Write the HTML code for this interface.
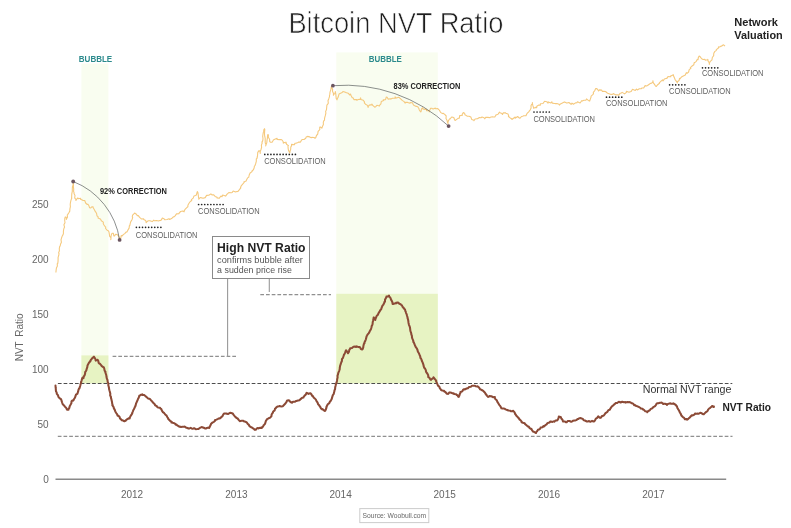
<!DOCTYPE html>
<html lang="en">
<head>
<meta charset="utf-8">
<title>Bitcoin NVT Ratio</title>
<style>
html,body{margin:0;padding:0;background:#fff;}
body{width:791px;height:528px;overflow:hidden;font-family:"Liberation Sans","DejaVu Sans",sans-serif;}
svg{display:block;}
text{font-family:"Liberation Sans","DejaVu Sans",sans-serif;}
.title{font-size:29.4px;fill:#1e1e1e;stroke:#fff;stroke-width:0.7px;paint-order:fill stroke;}
.cons{font-size:8.3px;fill:#606060;}
.tick{font-size:10px;fill:#666;}
.bubble{font-size:9px;font-weight:bold;fill:#2b8a8c;}
.corr{font-size:8.6px;font-weight:bold;fill:#222;}
.bold{font-weight:bold;fill:#222;}
</style>
</head>
<body>
<svg width="791" height="528" viewBox="0 0 791 528">
<rect width="791" height="528" fill="#fff"/>
<!-- bubble bands -->
<rect x="81.4" y="63.6" width="27" height="319.8" fill="#f9fdf0"/>
<rect x="336.3" y="52.4" width="101.5" height="331" fill="#f9fdf0"/>
<rect x="81.4" y="355.4" width="27" height="28" fill="#e7f3c3"/>
<rect x="336.3" y="293.8" width="101.5" height="89.6" fill="#e7f3c3"/>
<text x="78.8" y="61.8" class="bubble" textLength="33.4" lengthAdjust="spacingAndGlyphs">BUBBLE</text>
<text x="368.8" y="61.9" class="bubble" textLength="33" lengthAdjust="spacingAndGlyphs">BUBBLE</text>

<!-- title -->
<text x="288.4" y="32.9" class="title" textLength="215" lengthAdjust="spacingAndGlyphs">Bitcoin NVT Ratio</text>

<!-- axis -->
<line x1="55.5" y1="479.3" x2="726.2" y2="479.3" stroke="#8a8a8a" stroke-width="1.5"/>
<g class="tick" text-anchor="end">
<text x="48.7" y="207.6" class="tick">250</text>
<text x="48.7" y="262.7" class="tick">200</text>
<text x="48.7" y="317.7" class="tick">150</text>
<text x="48.7" y="372.8" class="tick">100</text>
<text x="48.7" y="427.8" class="tick">50</text>
<text x="48.7" y="482.8" class="tick">0</text>
</g>
<g class="tick" text-anchor="middle">
<text x="132" y="497.9" class="tick">2012</text>
<text x="236.4" y="497.9" class="tick">2013</text>
<text x="340.6" y="497.9" class="tick">2014</text>
<text x="444.7" y="497.9" class="tick">2015</text>
<text x="549" y="497.9" class="tick">2016</text>
<text x="653.4" y="497.9" class="tick">2017</text>
</g>
<text transform="translate(23.3,361.3) rotate(-90)" class="tick" style="word-spacing:2px;font-size:10px">NVT Ratio</text>

<!-- dashed reference lines -->
<line x1="57.9" y1="383.5" x2="732.3" y2="383.5" stroke="#4d4d4d" stroke-width="1" stroke-dasharray="3.7 2"/>
<line x1="57.8" y1="436.3" x2="732.5" y2="436.3" stroke="#909090" stroke-width="1.25" stroke-dasharray="3.7 2"/>
<line x1="112.6" y1="356.4" x2="236.4" y2="356.4" stroke="#909090" stroke-width="1.25" stroke-dasharray="3.7 2"/>
<line x1="260.3" y1="294.5" x2="331" y2="294.5" stroke="#909090" stroke-width="1.25" stroke-dasharray="3.7 2"/>
<line x1="227.6" y1="279" x2="227.6" y2="356.4" stroke="#999" stroke-width="1.1"/>
<line x1="269.3" y1="279" x2="269.3" y2="292" stroke="#999" stroke-width="1.1"/>

<!-- callout -->
<rect x="212.5" y="236.5" width="97" height="42" fill="#fff" stroke="#8a8a8a" stroke-width="1"/>
<text x="217.1" y="251.5" class="bold" font-size="13.4" textLength="88.4" lengthAdjust="spacingAndGlyphs">High NVT Ratio</text>
<text x="217.1" y="262.7" font-size="9" fill="#555" textLength="85.7" lengthAdjust="spacingAndGlyphs">confirms bubble after</text>
<text x="217.1" y="272.8" font-size="9" fill="#555" textLength="74.8" lengthAdjust="spacingAndGlyphs">a sudden price rise</text>

<!-- consolidation labels -->
<g fill="#222"><circle cx="136.40" cy="227.30" r="0.85"/><circle cx="139.46" cy="227.30" r="0.85"/><circle cx="142.52" cy="227.30" r="0.85"/><circle cx="145.58" cy="227.30" r="0.85"/><circle cx="148.64" cy="227.30" r="0.85"/><circle cx="151.70" cy="227.30" r="0.85"/><circle cx="154.76" cy="227.30" r="0.85"/><circle cx="157.82" cy="227.30" r="0.85"/><circle cx="160.88" cy="227.30" r="0.85"/></g><text x="135.8" y="238.1" class="cons" textLength="61.6" lengthAdjust="spacingAndGlyphs">CONSOLIDATION</text><g fill="#222"><circle cx="198.60" cy="204.50" r="0.85"/><circle cx="201.66" cy="204.50" r="0.85"/><circle cx="204.72" cy="204.50" r="0.85"/><circle cx="207.78" cy="204.50" r="0.85"/><circle cx="210.84" cy="204.50" r="0.85"/><circle cx="213.90" cy="204.50" r="0.85"/><circle cx="216.96" cy="204.50" r="0.85"/><circle cx="220.02" cy="204.50" r="0.85"/><circle cx="223.08" cy="204.50" r="0.85"/></g><text x="198" y="214.4" class="cons" textLength="61.6" lengthAdjust="spacingAndGlyphs">CONSOLIDATION</text><g fill="#222"><circle cx="264.80" cy="154.40" r="0.85"/><circle cx="267.86" cy="154.40" r="0.85"/><circle cx="270.92" cy="154.40" r="0.85"/><circle cx="273.98" cy="154.40" r="0.85"/><circle cx="277.04" cy="154.40" r="0.85"/><circle cx="280.10" cy="154.40" r="0.85"/><circle cx="283.16" cy="154.40" r="0.85"/><circle cx="286.22" cy="154.40" r="0.85"/><circle cx="289.28" cy="154.40" r="0.85"/><circle cx="292.34" cy="154.40" r="0.85"/><circle cx="295.40" cy="154.40" r="0.85"/></g><text x="264.2" y="164.4" class="cons" textLength="61.6" lengthAdjust="spacingAndGlyphs">CONSOLIDATION</text><g fill="#222"><circle cx="534.00" cy="112.00" r="0.85"/><circle cx="537.06" cy="112.00" r="0.85"/><circle cx="540.12" cy="112.00" r="0.85"/><circle cx="543.18" cy="112.00" r="0.85"/><circle cx="546.24" cy="112.00" r="0.85"/><circle cx="549.30" cy="112.00" r="0.85"/></g><text x="533.4" y="122.3" class="cons" textLength="61.6" lengthAdjust="spacingAndGlyphs">CONSOLIDATION</text><g fill="#222"><circle cx="606.50" cy="97.20" r="0.85"/><circle cx="609.56" cy="97.20" r="0.85"/><circle cx="612.62" cy="97.20" r="0.85"/><circle cx="615.68" cy="97.20" r="0.85"/><circle cx="618.74" cy="97.20" r="0.85"/><circle cx="621.80" cy="97.20" r="0.85"/></g><text x="605.9" y="106.1" class="cons" textLength="61.6" lengthAdjust="spacingAndGlyphs">CONSOLIDATION</text><g fill="#222"><circle cx="669.60" cy="84.80" r="0.85"/><circle cx="672.66" cy="84.80" r="0.85"/><circle cx="675.72" cy="84.80" r="0.85"/><circle cx="678.78" cy="84.80" r="0.85"/><circle cx="681.84" cy="84.80" r="0.85"/><circle cx="684.90" cy="84.80" r="0.85"/></g><text x="669.0" y="93.8" class="cons" textLength="61.6" lengthAdjust="spacingAndGlyphs">CONSOLIDATION</text><g fill="#222"><circle cx="702.50" cy="67.80" r="0.85"/><circle cx="705.56" cy="67.80" r="0.85"/><circle cx="708.62" cy="67.80" r="0.85"/><circle cx="711.68" cy="67.80" r="0.85"/><circle cx="714.74" cy="67.80" r="0.85"/><circle cx="717.80" cy="67.80" r="0.85"/></g><text x="701.9" y="76.4" class="cons" textLength="61.6" lengthAdjust="spacingAndGlyphs">CONSOLIDATION</text>

<!-- curves -->
<path d="M55.9,272.5 L56.1,270.3 L56.4,268.1 L57.4,266.1 L57.2,263.8 L57.7,263.7 L58.0,261.7 L58.1,259.5 L58.1,257.3 L58.8,255.2 L59.0,253.6 L58.6,252.9 L59.4,250.8 L59.3,248.6 L59.7,246.4 L60.2,246.0 L60.5,244.3 L61.4,242.2 L61.0,239.9 L61.6,237.8 L62.3,235.9 L62.5,235.7 L63.4,233.7 L63.4,231.4 L63.7,229.2 L64.0,228.3 L64.6,227.1 L63.9,224.8 L65.0,222.7 L64.7,220.5 L64.8,218.3 L65.3,216.9 L66.2,217.3 L66.5,219.4 L66.3,219.2 L67.5,217.2 L67.3,214.9 L67.8,214.4 L68.7,213.0 L69.8,211.1 L69.8,210.6 L69.9,208.9 L70.4,206.7 L70.2,204.5 L70.5,202.3 L71.0,200.1 L71.8,198.0 L71.6,197.9 L71.7,195.8 L71.8,193.6 L72.3,191.4 L72.3,189.2 L72.4,187.0 L73.1,184.9 L73.2,182.7 L73.0,182.6 L73.5,184.7 L73.4,186.9 L73.7,189.1 L73.6,191.3 L74.1,192.9 L74.0,193.5 L75.0,195.5 L74.7,197.9 L76.2,199.8 L75.9,200.5 L76.7,199.2 L77.9,197.9 L78.1,198.7 L80.7,198.3 L80.5,199.2 L82.3,200.1 L83.0,200.5 L84.7,200.5 L85.5,202.5 L85.6,203.0 L87.3,204.5 L88.0,204.2 L88.9,205.7 L89.6,207.8 L90.6,208.0 L91.8,206.9 L93.1,206.8 L93.2,207.8 L94.4,209.7 L95.4,211.7 L95.6,211.8 L96.6,213.5 L97.0,215.8 L98.2,216.9 L98.0,218.0 L100.3,218.9 L100.7,219.4 L101.3,220.8 L103.4,222.1 L103.2,223.2 L103.6,224.5 L104.9,226.3 L105.7,227.0 L105.6,228.5 L107.1,230.2 L108.3,230.8 L108.9,231.7 L109.3,233.8 L109.6,236.1 L111.0,237.9 L110.8,239.6 L110.9,238.9 L111.0,236.7 L111.4,234.5 L112.1,233.3 L113.3,233.2 L113.8,235.9 L114.6,235.9 L115.6,234.3 L117.1,234.6 L118.0,235.2 L119.0,237.2 L119.6,238.4 L120.8,238.4 L121.2,235.6 L122.2,235.9 L123.3,234.7 L125.0,233.3 L126.0,232.1 L126.9,231.9 L128.0,229.9 L129.1,228.1 L129.4,225.6 L129.8,225.7 L130.2,223.7 L130.8,221.6 L132.0,219.7 L132.7,217.6 L132.3,216.9 L132.6,215.1 L134.1,213.6 L134.6,213.0 L136.4,214.3 L137.3,215.6 L138.3,215.6 L139.6,217.4 L141.1,218.7 L141.3,219.0 L143.6,218.7 L143.7,219.4 L145.7,220.4 L146.2,222.7 L146.1,222.5 L147.7,221.1 L148.7,220.7 L149.9,220.8 L152.2,221.6 L153.8,220.2 L154.2,220.8 L156.5,220.5 L158.6,221.0 L158.8,220.7 L160.9,220.4 L162.4,218.1 L163.9,218.7 L164.9,219.8 L167.1,219.5 L169.0,218.7 L169.6,219.5 L171.6,218.6 L173.3,216.9 L174.0,216.9 L175.1,215.8 L176.5,213.9 L179.0,213.6 L179.1,213.1 L180.6,211.5 L182.7,211.0 L184.1,211.8 L184.3,210.6 L185.5,208.8 L187.1,207.3 L187.9,206.8 L187.9,205.2 L189.0,203.3 L190.3,201.5 L191.7,200.5 L191.4,199.6 L193.2,198.1 L194.0,195.9 L195.5,195.4 L196.4,194.9 L197.0,192.7 L197.3,191.6 L197.9,192.5 L198.2,194.7 L198.5,196.9 L198.9,199.1 L198.8,199.2 L200.3,197.5 L201.8,197.9 L203.1,198.2 L205.2,197.6 L206.6,195.4 L206.9,195.4 L208.8,195.2 L210.9,193.9 L211.9,194.9 L213.5,194.7 L215.1,196.4 L217.1,197.3 L217.0,197.9 L219.2,198.3 L220.9,196.0 L222.0,196.7 L222.6,195.1 L225.6,196.1 L227.1,194.2 L227.1,194.1 L228.8,192.6 L231.3,192.8 L232.2,192.4 L233.2,191.0 L235.5,191.9 L236.0,191.8 L238.0,191.4 L239.4,189.7 L240.8,187.9 L240.5,187.6 L241.4,185.6 L242.9,183.9 L244.2,182.5 L243.8,181.9 L246.1,180.9 L247.1,178.8 L248.0,177.5 L248.7,177.3 L249.2,175.0 L250.1,173.0 L252.1,171.6 L251.8,171.1 L253.4,169.8 L254.2,167.7 L254.4,166.1 L255.0,165.6 L255.7,163.5 L256.3,161.4 L256.3,159.0 L256.9,158.5 L257.3,157.0 L257.6,154.9 L257.7,152.6 L258.7,150.9 L259.6,150.7 L260.3,152.8 L260.2,153.4 L260.2,151.6 L261.0,149.5 L261.6,147.4 L261.4,145.1 L262.2,143.0 L261.9,142.1 L262.7,140.9 L263.0,138.7 L262.7,136.4 L263.0,134.2 L263.4,132.1 L263.7,131.9 L263.8,129.9 L264.5,128.7 L264.8,129.6 L264.6,131.8 L264.5,134.0 L264.7,136.2 L265.2,138.4 L265.2,140.6 L265.2,142.8 L266.0,144.9 L265.7,145.9 L266.1,144.7 L266.8,142.6 L267.0,140.4 L267.4,138.2 L267.5,136.0 L267.8,134.5 L268.4,135.0 L268.3,137.3 L269.6,139.2 L269.7,141.5 L270.3,142.1 L272.1,142.3 L273.3,140.3 L273.3,140.0 L275.3,139.0 L277.1,138.3 L277.0,139.5 L279.3,139.6 L280.9,139.5 L281.8,139.7 L283.1,141.5 L283.4,143.3 L283.5,142.3 L286.3,143.1 L286.0,142.1 L286.5,144.2 L288.5,145.6 L288.0,145.9 L288.1,148.1 L288.5,150.3 L289.4,152.3 L289.8,152.9 L290.0,151.4 L290.7,149.3 L290.8,147.0 L291.5,145.9 L291.5,144.4 L294.6,144.8 L294.8,143.3 L296.0,143.3 L298.0,142.4 L298.6,142.1 L300.5,142.1 L301.6,139.9 L302.4,139.5 L304.0,139.5 L305.8,138.2 L306.2,137.0 L307.5,136.4 L309.7,136.9 L311.3,137.8 L311.8,137.3 L314.0,137.5 L315.0,138.3 L315.8,137.5 L316.5,135.3 L317.6,134.5 L317.8,133.6 L318.1,131.4 L319.8,129.6 L319.7,127.3 L320.1,126.9 L321.5,127.8 L321.9,128.2 L322.4,126.6 L323.4,124.6 L323.3,122.3 L323.9,120.6 L324.5,120.3 L324.6,118.1 L325.2,115.9 L325.7,113.8 L325.9,113.0 L325.6,111.6 L326.5,109.5 L326.7,107.3 L326.9,105.1 L327.7,104.1 L328.3,103.1 L328.0,100.8 L328.8,98.7 L329.5,96.6 L329.5,95.3 L329.8,94.4 L330.0,92.2 L330.7,90.1 L331.2,88.0 L331.5,86.4 L331.3,87.0 L332.6,89.0 L332.5,91.3 L333.4,93.3 L333.5,95.3 L333.3,94.9 L335.0,93.3 L335.3,91.5 L335.4,91.9 L335.8,94.1 L336.0,96.3 L336.2,98.5 L337.0,99.8 L337.2,99.0 L338.2,97.1 L338.8,94.9 L339.1,94.0 L340.1,93.4 L342.2,92.5 L342.9,91.5 L343.9,91.7 L346.0,92.6 L346.7,92.8 L348.1,93.2 L349.8,95.0 L350.4,94.0 L351.2,95.8 L352.2,97.8 L353.0,97.8 L353.9,99.6 L356.6,99.5 L356.8,100.3 L358.2,99.5 L360.6,99.1 L360.6,97.8 L360.9,99.4 L363.3,100.3 L364.6,102.1 L364.3,102.9 L365.5,104.2 L367.5,105.4 L368.1,107.4 L367.9,106.8 L369.3,105.1 L371.9,104.6 L371.9,104.1 L373.0,105.7 L374.7,107.2 L375.7,106.7 L376.9,105.3 L379.5,106.0 L379.5,105.4 L380.9,103.9 L381.3,101.5 L383.7,100.5 L383.3,99.8 L385.5,99.7 L386.3,97.0 L387.1,97.3 L388.1,99.1 L390.7,98.7 L390.9,99.1 L392.5,98.2 L395.1,98.2 L395.1,96.8 L396.2,98.1 L398.9,97.2 L400.1,98.5 L400.7,98.8 L402.2,100.4 L404.1,101.6 L405.2,103.1 L405.5,102.3 L407.7,102.4 L410.0,103.2 L410.2,102.6 L412.4,102.8 L413.5,105.0 L415.3,106.1 L415.5,106.1 L417.8,106.8 L419.0,108.8 L419.1,109.4 L419.9,110.9 L420.8,111.9 L421.2,111.1 L421.5,108.8 L422.9,107.6 L422.8,108.9 L425.0,109.4 L426.7,109.4 L426.5,110.6 L429.3,110.8 L429.2,111.9 L429.7,110.4 L430.6,108.3 L431.7,108.2 L433.1,109.1 L435.4,108.1 L435.5,108.7 L437.8,108.6 L439.3,110.2 L439.5,110.2 L440.6,112.4 L442.4,113.6 L443.1,113.2 L444.7,114.4 L446.2,116.0 L446.1,117.0 L446.0,118.6 L447.1,120.6 L447.6,122.7 L448.2,123.8 L447.9,122.7 L448.5,120.6 L449.7,118.8 L450.1,119.0 L451.4,117.2 L451.9,117.0 L453.8,117.5 L454.5,119.5 L455.1,120.5 L457.0,119.1 L458.3,118.3 L459.3,118.2 L459.7,115.6 L462.5,115.2 L462.1,114.5 L463.3,112.6 L464.6,113.2 L464.9,114.7 L466.9,115.9 L467.1,116.2 L469.0,116.2 L470.9,117.0 L470.9,117.2 L471.7,119.4 L474.1,120.3 L473.9,120.8 L475.1,119.0 L477.2,118.8 L477.5,118.8 L479.4,117.5 L481.0,117.8 L482.0,117.0 L484.0,117.7 L484.8,118.8 L485.7,117.4 L488.0,117.4 L489.9,117.8 L490.2,117.2 L492.3,116.8 L493.7,117.0 L494.8,117.0 L496.0,114.9 L497.5,114.5 L498.1,114.1 L499.5,112.2 L500.0,112.7 L501.9,113.6 L502.5,114.5 L503.2,112.9 L505.4,112.7 L505.8,113.2 L508.0,113.9 L508.8,116.2 L508.4,116.5 L510.2,117.9 L512.3,119.0 L511.9,119.5 L513.5,118.2 L515.2,117.0 L515.1,118.2 L517.7,116.5 L519.0,117.8 L519.9,118.3 L521.5,116.5 L522.7,116.2 L523.6,115.8 L526.0,115.7 L526.5,114.5 L527.1,113.4 L528.7,111.8 L529.6,110.7 L530.1,110.1 L531.1,108.1 L531.0,105.7 L531.6,104.4 L532.4,103.9 L532.4,102.6 L532.4,103.6 L532.9,105.7 L533.6,107.8 L533.6,108.2 L535.3,107.4 L536.7,107.6 L536.8,106.2 L538.8,105.1 L540.4,105.1 L540.4,103.8 L543.0,103.5 L544.2,101.8 L544.6,101.3 L546.7,101.7 L548.0,103.1 L548.2,101.9 L550.9,103.0 L551.8,101.8 L552.3,103.1 L554.5,103.5 L555.6,103.6 L556.9,103.5 L559.0,104.2 L559.4,105.1 L560.4,103.9 L562.4,103.0 L563.2,102.6 L564.6,101.9 L566.7,102.9 L567.0,103.1 L568.9,102.5 L571.1,104.3 L572.0,103.1 L573.4,104.2 L575.5,102.9 L577.1,102.6 L577.5,101.8 L580.1,103.0 L581.7,100.7 L582.2,101.1 L583.9,100.3 L586.0,100.1 L586.5,98.9 L588.3,100.4 L589.7,101.1 L589.9,100.4 L590.6,98.4 L591.0,97.3 L591.1,96.1 L592.8,94.6 L593.5,93.6 L593.3,92.3 L594.8,90.6 L595.7,88.6 L596.6,88.5 L597.8,89.7 L598.6,91.0 L599.4,89.9 L601.6,90.1 L602.4,91.5 L603.7,91.2 L605.9,91.5 L606.2,92.3 L607.7,93.2 L609.7,94.0 L610.0,94.1 L612.0,94.5 L613.8,93.6 L613.9,94.1 L616.0,94.9 L617.5,94.8 L618.6,95.3 L620.1,93.3 L621.3,93.0 L622.2,92.4 L624.6,93.9 L626.4,92.3 L626.4,91.3 L628.9,92.3 L631.0,91.5 L631.5,91.0 L632.5,89.3 L635.3,90.4 L636.5,89.0 L637.3,89.9 L639.3,88.8 L641.5,88.7 L641.6,88.0 L643.7,88.0 L645.1,85.6 L646.6,86.0 L647.5,85.5 L649.3,84.2 L650.4,83.4 L651.5,83.3 L653.0,81.7 L652.9,80.9 L653.2,82.6 L654.5,84.4 L655.5,86.0 L656.3,86.5 L657.7,84.7 L659.5,83.3 L659.3,82.9 L660.8,81.4 L662.5,79.9 L663.1,80.9 L664.4,79.0 L666.5,78.2 L666.9,78.4 L668.0,76.5 L670.8,76.7 L670.6,75.9 L672.4,75.2 L673.2,74.6 L673.5,75.8 L674.4,77.8 L675.2,79.9 L675.7,80.4 L676.6,81.6 L677.5,82.9 L677.0,82.0 L679.1,80.5 L679.5,78.4 L679.9,78.8 L681.4,77.1 L683.3,76.0 L683.3,75.9 L685.3,75.0 L686.3,72.6 L687.1,73.3 L688.6,72.0 L689.2,69.7 L690.9,68.3 L690.3,67.8 L691.8,66.2 L693.8,64.8 L694.2,62.5 L694.7,62.7 L696.3,61.3 L697.2,59.4 L698.0,59.7 L698.4,57.4 L699.2,56.1 L699.9,56.4 L701.2,58.2 L701.7,58.7 L703.1,59.5 L704.8,59.4 L705.3,60.1 L707.5,59.7 L707.8,59.4 L708.2,61.3 L709.5,63.2 L709.3,64.5 L709.2,63.3 L710.3,61.4 L711.1,60.7 L712.0,59.8 L712.3,57.5 L713.7,55.7 L713.6,55.6 L713.8,53.3 L714.9,51.4 L716.2,50.6 L716.3,49.6 L718.2,48.2 L718.7,46.8 L719.6,47.1 L721.2,46.0 L721.7,46.2 L723.0,45.0 L723.6,44.8 L725.0,46.2" fill="none" stroke="#f5c97e" stroke-width="1.1" stroke-linejoin="round"/>
<path d="M55.5,385.5 L55.6,387.2 L55.8,388.9 L55.9,390.6 L56.0,391.5 L56.6,392.1 L56.8,393.9 L58.0,395.2 L58.2,396.0 L58.4,396.9 L59.5,398.2 L60.6,399.0 L61.1,399.2 L61.6,400.9 L62.1,402.5 L62.7,404.1 L63.6,405.2 L63.9,405.4 L65.0,406.7 L66.2,407.9 L66.7,409.0 L67.0,409.7 L68.5,409.7 L68.4,409.3 L69.3,407.9 L69.7,406.2 L70.3,405.2 L70.5,404.7 L71.4,403.2 L71.5,401.4 L72.1,400.6 L72.9,400.7 L73.6,400.0 L73.9,399.3 L74.9,397.8 L75.5,396.2 L75.8,395.2 L76.0,394.6 L77.5,393.6 L77.6,393.0 L78.0,391.9 L78.4,390.2 L79.0,388.6 L79.4,388.5 L79.8,387.1 L80.3,385.5 L80.7,383.8 L81.2,382.4 L81.0,382.2 L81.6,380.6 L82.0,378.9 L82.4,377.9 L83.0,378.3 L83.6,377.9 L83.6,376.7 L84.6,375.3 L85.1,373.6 L85.2,371.9 L85.5,371.8 L86.3,370.4 L86.7,368.8 L87.3,367.2 L87.5,365.5 L87.9,364.8 L88.3,363.9 L89.1,362.5 L90.4,361.2 L90.3,360.6 L91.1,359.8 L92.1,358.3 L92.4,358.2 L93.3,357.2 L93.9,356.7 L94.5,357.5 L95.4,359.0 L95.8,360.6 L95.6,360.2 L97.5,360.2 L97.6,359.7 L98.3,360.9 L98.6,362.7 L99.4,363.6 L99.9,363.8 L101.1,365.1 L101.5,365.8 L102.2,366.3 L103.6,367.3 L103.8,367.2 L104.3,368.8 L104.6,370.6 L105.5,371.8 L105.3,372.1 L105.8,373.7 L106.3,375.3 L106.5,377.0 L106.9,378.7 L107.3,379.4 L107.5,380.3 L107.7,382.0 L108.4,383.6 L108.3,385.3 L108.8,387.0 L109.1,388.5 L109.0,388.7 L109.4,390.3 L109.9,392.0 L110.3,393.6 L110.2,395.4 L111.0,396.9 L110.9,397.6 L111.2,398.6 L111.6,400.3 L112.0,401.9 L112.2,403.6 L112.7,405.2 L112.4,405.4 L113.5,406.8 L113.9,408.4 L114.8,409.9 L115.2,411.2 L115.3,411.5 L116.2,413.0 L117.2,414.4 L117.6,415.8 L118.0,415.7 L119.4,416.7 L119.7,417.3 L120.0,418.4 L121.3,419.6 L121.8,420.3 L122.7,420.3 L123.9,421.0 L124.4,421.2 L125.9,420.5 L126.4,419.6 L127.2,419.3 L128.6,418.3 L129.7,418.4 L129.8,417.6 L130.5,416.1 L131.5,414.7 L132.3,413.3 L132.1,413.1 L132.8,411.6 L133.4,410.0 L134.3,408.5 L134.8,407.0 L135.1,407.0 L135.6,405.4 L136.0,403.7 L136.7,402.1 L137.3,400.7 L137.4,400.6 L138.0,399.0 L138.8,397.5 L139.3,395.8 L139.8,395.6 L140.9,394.8 L142.4,394.4 L142.2,394.9 L144.2,394.9 L145.4,396.1 L145.4,396.1 L146.8,397.2 L148.0,398.4 L149.2,398.7 L149.8,398.9 L150.9,400.2 L152.1,401.4 L153.0,402.7 L153.2,402.7 L154.4,403.9 L155.3,405.4 L156.8,406.2 L156.7,406.5 L158.0,407.5 L160.0,407.7 L160.6,408.8 L161.3,409.0 L161.9,410.7 L162.9,412.1 L164.3,413.1 L164.4,413.3 L165.2,414.5 L166.6,415.6 L167.4,417.2 L168.2,418.4 L168.1,418.8 L169.3,420.0 L170.5,421.2 L171.9,422.2 L171.6,422.6 L173.5,422.9 L175.0,423.7 L175.7,424.7 L176.4,424.6 L177.7,425.7 L179.2,426.6 L179.5,426.5 L181.0,427.0 L182.7,426.8 L184.4,426.7 L184.6,426.5 L185.8,427.4 L187.4,427.9 L188.4,428.5 L189.0,428.6 L190.7,427.9 L192.4,428.8 L193.4,428.5 L194.1,428.2 L195.7,429.2 L197.4,429.1 L198.5,429.0 L199.0,428.5 L200.4,427.6 L202.0,427.0 L202.3,427.2 L203.7,427.8 L205.3,428.5 L206.1,428.5 L206.9,427.9 L208.6,427.6 L209.1,428.0 L209.7,426.9 L210.5,425.3 L211.1,423.9 L211.1,423.7 L212.4,422.6 L213.9,421.8 L214.9,420.9 L214.9,420.3 L216.5,419.6 L218.0,418.8 L218.7,418.4 L219.8,418.4 L221.1,417.4 L221.3,417.1 L222.4,416.2 L223.2,414.6 L223.8,413.8 L224.5,413.5 L226.2,413.5 L226.8,413.8 L228.0,414.0 L229.5,413.2 L230.1,412.8 L231.1,413.1 L232.8,413.6 L233.4,414.6 L233.9,415.1 L234.9,416.5 L236.2,417.6 L236.4,417.9 L237.6,418.5 L238.7,419.9 L239.8,421.2 L240.2,420.9 L241.8,420.8 L243.5,420.8 L244.0,421.4 L245.1,421.6 L246.5,422.2 L246.7,422.3 L247.6,423.8 L248.9,424.9 L249.1,425.5 L249.8,426.4 L251.3,427.3 L251.6,427.2 L252.7,428.2 L254.2,429.1 L254.6,429.8 L255.7,429.8 L256.8,428.4 L257.9,428.0 L258.5,428.4 L260.2,427.7 L261.7,428.0 L261.6,427.7 L263.0,426.7 L263.7,425.1 L264.2,424.7 L265.0,423.9 L265.5,422.2 L266.0,420.6 L266.8,419.6 L267.1,419.1 L268.6,418.3 L270.2,417.6 L270.6,417.1 L271.4,416.3 L271.6,414.5 L272.5,413.1 L273.1,412.1 L273.2,411.5 L274.7,410.4 L275.0,408.6 L275.6,408.3 L276.3,407.3 L277.7,406.4 L278.9,406.2 L279.5,406.0 L281.2,406.4 L282.9,406.2 L283.2,405.7 L284.2,404.7 L285.4,403.5 L286.4,402.1 L287.0,400.7 L287.2,400.5 L288.9,400.3 L289.5,400.7 L290.1,401.7 L291.5,402.6 L292.0,402.7 L293.0,401.7 L294.8,401.8 L295.8,401.2 L296.3,400.9 L298.0,400.5 L299.6,400.2 L299.6,400.0 L300.9,398.9 L302.2,397.8 L303.4,397.6 L303.6,397.0 L304.6,395.6 L305.9,394.5 L306.3,393.3 L306.8,392.8 L308.5,393.9 L310.1,393.3 L310.4,393.2 L311.5,394.5 L312.3,396.0 L313.1,396.3 L313.4,397.2 L314.7,398.4 L315.9,399.6 L316.4,400.9 L316.6,401.2 L317.6,402.6 L318.1,404.3 L319.4,405.5 L319.7,406.4 L320.3,406.9 L321.0,408.5 L322.3,409.5 L322.7,409.1 L323.9,410.4 L324.8,411.0 L325.3,410.6 L326.0,409.0 L326.5,407.7 L326.3,407.3 L327.0,405.8 L327.8,404.2 L328.3,403.9 L329.3,403.2 L329.9,401.5 L330.3,401.4 L331.0,400.2 L331.8,398.7 L332.2,397.0 L332.4,396.8 L332.7,395.4 L333.7,394.0 L334.1,392.3 L334.4,391.3 L334.4,390.6 L335.1,389.0 L335.2,387.3 L335.6,385.7 L335.9,384.0 L336.2,383.7 L336.6,382.4 L337.0,380.7 L337.2,379.0 L337.6,377.4 L337.5,375.6 L337.9,374.8 L338.0,374.0 L338.5,372.4 L339.2,370.8 L339.7,369.2 L339.8,367.4 L339.9,367.2 L340.1,365.8 L340.7,364.2 L341.2,362.5 L341.9,361.0 L342.0,359.6 L341.9,359.2 L343.0,357.8 L343.5,356.2 L344.0,354.6 L344.2,354.6 L344.9,353.1 L345.5,351.5 L346.0,350.3 L346.4,350.6 L347.3,352.0 L348.0,353.3 L348.0,353.1 L349.0,351.6 L349.3,349.9 L350.1,348.8 L350.2,348.3 L352.0,348.0 L353.1,347.0 L353.4,346.7 L355.1,346.5 L356.1,347.0 L356.8,346.4 L358.5,347.1 L359.4,347.0 L360.1,347.4 L360.9,349.0 L362.2,349.5 L362.6,349.2 L363.2,347.6 L363.4,345.9 L363.8,344.2 L364.5,343.2 L364.4,342.6 L365.2,341.1 L365.8,339.5 L366.2,337.9 L366.6,336.2 L367.0,335.6 L367.5,334.7 L368.6,333.4 L369.5,332.0 L369.5,331.8 L370.2,330.4 L371.0,328.9 L371.5,327.3 L371.8,325.6 L372.1,325.5 L372.6,324.0 L372.7,322.3 L373.1,320.7 L373.4,319.0 L373.8,317.4 L373.7,317.5 L374.9,318.8 L375.3,320.0 L375.3,319.5 L375.9,317.9 L376.5,316.3 L377.1,315.4 L377.7,315.1 L378.4,313.5 L379.2,312.0 L379.6,311.6 L380.1,310.5 L381.2,309.2 L381.7,307.5 L382.2,306.5 L382.3,305.9 L383.4,304.6 L384.1,303.0 L384.7,301.5 L385.0,301.6 L385.0,299.8 L385.8,298.2 L386.6,296.7 L386.5,296.4 L388.0,296.4 L389.0,295.7 L389.0,296.3 L390.3,297.6 L390.9,299.2 L391.0,299.7 L391.7,300.7 L392.4,302.2 L392.6,304.0 L393.0,304.0 L394.5,303.5 L396.2,303.3 L396.1,302.8 L397.7,302.6 L398.6,302.8 L399.0,303.6 L400.6,304.3 L401.1,304.8 L401.9,305.4 L402.7,307.0 L403.7,307.8 L403.6,308.3 L405.0,309.6 L405.4,311.2 L405.7,311.6 L406.0,312.8 L406.7,314.4 L407.1,316.0 L407.6,317.6 L407.5,317.9 L408.0,319.3 L408.3,321.0 L408.5,322.7 L408.9,324.4 L409.2,325.5 L409.5,326.0 L410.0,327.6 L410.2,329.3 L410.4,331.0 L411.0,332.6 L411.4,334.2 L411.3,334.4 L411.9,335.9 L412.0,337.6 L412.6,339.2 L413.3,340.8 L413.3,341.9 L413.8,342.3 L414.4,343.9 L415.0,345.5 L415.8,347.0 L415.7,347.1 L416.8,348.4 L417.5,350.0 L417.9,351.7 L418.3,352.1 L418.8,353.1 L419.5,354.7 L420.2,356.2 L420.4,358.0 L420.9,358.4 L421.4,359.4 L421.9,361.0 L422.7,362.6 L423.2,364.2 L423.4,364.7 L423.6,365.9 L424.1,367.5 L425.2,368.9 L425.9,370.4 L425.9,371.0 L426.2,372.1 L427.3,373.5 L428.1,375.0 L428.4,376.6 L428.2,376.9 L429.6,378.0 L430.4,379.6 L431.0,379.9 L431.7,379.1 L433.2,378.2 L433.5,377.3 L434.0,378.0 L435.1,379.3 L436.2,380.6 L436.0,381.1 L436.6,382.3 L437.3,383.9 L437.9,385.5 L438.6,386.2 L439.3,386.6 L439.9,388.3 L441.0,389.6 L441.1,390.0 L442.3,390.5 L444.0,390.8 L444.1,391.3 L445.4,392.0 L446.5,393.3 L447.2,393.8 L448.2,393.9 L449.4,392.4 L450.4,392.5 L451.2,392.7 L452.7,393.4 L453.7,393.3 L454.2,394.1 L456.1,394.2 L456.8,395.0 L457.5,395.3 L458.3,396.8 L458.6,396.9 L459.4,395.4 L459.9,393.8 L460.6,392.5 L460.5,392.0 L462.2,391.4 L463.1,389.8 L463.8,389.2 L464.7,389.5 L466.2,388.7 L467.4,388.2 L467.9,388.3 L469.1,386.9 L471.0,386.8 L471.4,386.2 L472.4,385.7 L474.1,385.7 L475.0,385.7 L475.7,386.3 L477.4,386.6 L477.5,386.2 L478.8,387.3 L479.8,388.6 L480.0,389.2 L481.1,389.6 L482.6,390.5 L483.1,390.7 L483.8,391.5 L485.0,392.8 L485.8,394.3 L486.0,394.1 L486.9,395.6 L488.0,396.9 L488.4,396.8 L489.8,396.0 L491.6,396.4 L491.7,396.3 L493.0,397.2 L494.9,397.1 L494.7,397.6 L495.4,399.2 L496.8,400.3 L497.2,401.4 L497.4,401.9 L498.3,403.3 L499.2,404.8 L499.5,405.2 L500.3,406.2 L501.1,407.6 L501.4,408.3 L502.3,408.5 L504.1,408.6 L504.7,408.8 L505.5,409.4 L507.2,410.0 L507.7,410.3 L508.7,410.6 L510.5,410.7 L510.7,411.3 L512.0,411.2 L513.3,410.8 L513.5,411.1 L514.6,412.4 L515.2,414.1 L515.8,414.6 L516.2,415.5 L517.4,416.7 L518.3,417.9 L518.6,417.9 L519.5,419.4 L520.8,420.5 L521.8,421.9 L521.6,422.2 L523.0,422.8 L524.7,423.3 L524.9,423.9 L525.9,424.7 L527.1,425.8 L527.9,426.5 L528.7,426.6 L529.7,428.1 L531.0,429.0 L531.4,428.8 L532.1,430.4 L533.3,431.7 L533.5,431.5 L534.9,432.4 L536.0,433.0 L535.9,432.4 L537.1,431.2 L538.0,429.8 L538.0,429.7 L539.7,429.2 L540.6,428.0 L540.6,427.5 L542.5,427.2 L543.6,426.0 L544.0,426.4 L545.3,425.2 L546.7,424.4 L546.9,423.9 L547.7,422.9 L549.6,422.5 L550.2,421.4 L550.8,421.4 L552.5,421.9 L553.7,421.4 L554.3,421.7 L555.6,420.4 L557.0,420.4 L557.4,420.1 L558.3,418.7 L558.8,417.1 L558.8,416.6 L560.5,416.9 L560.8,417.1 L561.3,418.5 L562.5,419.8 L562.8,420.9 L563.1,421.5 L565.0,421.5 L565.9,422.2 L566.6,422.3 L567.8,420.9 L568.9,420.9 L569.6,421.0 L571.2,421.8 L572.2,421.4 L572.9,420.8 L574.5,420.4 L575.5,420.4 L576.2,420.1 L577.6,419.1 L578.5,418.9 L579.2,418.2 L580.9,418.1 L581.5,418.4 L582.7,418.7 L583.7,420.3 L584.8,420.4 L585.4,420.8 L586.9,421.5 L588.1,421.4 L588.7,421.0 L590.4,421.7 L591.1,421.4 L592.1,420.9 L593.8,421.4 L594.2,421.4 L595.0,420.4 L595.8,418.8 L596.2,418.4 L597.2,417.9 L598.2,416.4 L598.2,416.4 L599.5,417.5 L600.2,417.9 L601.1,417.6 L601.9,415.9 L602.5,415.9 L603.8,415.5 L604.8,414.1 L605.0,413.8 L605.9,412.8 L607.4,411.9 L607.6,411.3 L608.3,410.3 L610.0,409.6 L610.1,408.8 L610.8,408.0 L611.7,406.6 L612.6,405.7 L613.1,405.6 L614.3,404.3 L615.2,403.7 L615.6,403.1 L617.4,403.0 L617.7,402.5 L618.8,401.8 L620.6,402.5 L621.5,402.0 L622.3,401.7 L624.0,402.2 L625.3,402.0 L625.7,402.6 L627.4,402.1 L629.1,402.2 L629.1,402.0 L630.7,402.5 L631.6,403.2 L632.4,403.2 L633.7,404.3 L634.1,405.2 L635.0,405.1 L636.4,406.1 L637.2,406.2 L638.1,406.6 L639.6,407.4 L640.4,407.8 L640.8,408.6 L642.7,408.8 L643.0,409.5 L644.0,409.9 L645.1,411.2 L645.5,411.3 L647.0,411.5 L647.3,412.3 L647.8,411.3 L649.3,410.5 L649.8,410.3 L650.5,409.2 L652.0,408.4 L652.3,408.3 L653.2,407.2 L654.8,406.4 L654.9,406.2 L655.9,405.1 L656.7,403.6 L657.4,403.2 L658.4,403.2 L660.0,402.8 L660.7,402.7 L661.8,402.6 L663.2,404.0 L664.0,403.7 L665.0,403.8 L666.6,404.3 L667.0,404.9 L667.8,403.9 L669.6,403.6 L670.0,403.2 L671.1,403.7 L672.8,403.7 L673.3,403.4 L674.3,404.0 L675.8,404.9 L675.8,405.2 L676.9,406.3 L677.4,408.0 L678.3,409.4 L678.4,409.5 L679.2,410.9 L679.9,412.5 L680.8,413.9 L680.8,414.0 L681.4,415.5 L682.6,416.8 L683.3,417.4 L684.0,417.7 L684.9,419.3 L685.2,419.1 L686.9,419.1 L687.2,419.7 L688.2,418.9 L689.4,417.7 L689.7,417.6 L690.6,416.5 L691.8,415.3 L692.1,415.6 L693.7,415.1 L694.7,414.2 L695.0,413.6 L696.8,413.8 L697.3,413.6 L698.5,413.8 L699.8,413.0 L700.2,412.7 L701.8,413.2 L701.8,413.6 L703.3,414.2 L703.8,414.2 L704.6,413.4 L705.8,412.2 L705.9,412.3 L707.3,411.2 L707.9,410.2 L708.1,409.6 L709.3,408.4 L709.9,408.1 L710.6,407.3 L711.9,406.5 L712.1,406.0 L713.8,407.0 L713.9,406.5" fill="none" stroke="#8c4a36" stroke-width="2.05" stroke-linejoin="round" stroke-linecap="round"/>

<!-- correction arcs -->
<path d="M73.2,181.5 A74.5,74.5 0 0 1 119.6,239.9" fill="none" stroke="#5a5e5e" stroke-width="0.7"/>
<path d="M332.9,85.7 A151.5,151.5 0 0 1 448.6,126.1" fill="none" stroke="#5a5e5e" stroke-width="0.7"/>
<circle cx="73.2" cy="181.5" r="1.9" fill="#6b5560"/>
<circle cx="119.6" cy="239.9" r="1.9" fill="#6b5560"/>
<circle cx="332.9" cy="85.7" r="1.9" fill="#6b5560"/>
<circle cx="448.6" cy="126.1" r="1.9" fill="#6b5560"/>
<text x="99.9" y="193.9" class="corr" textLength="67" lengthAdjust="spacingAndGlyphs">92% CORRECTION</text>
<text x="393.5" y="88.7" class="corr" textLength="66.8" lengthAdjust="spacingAndGlyphs">83% CORRECTION</text>

<!-- right labels -->
<text x="734.3" y="26" class="bold" font-size="10" textLength="43.6" lengthAdjust="spacingAndGlyphs">Network</text>
<text x="734.3" y="39.2" class="bold" font-size="10" textLength="48.4" lengthAdjust="spacingAndGlyphs">Valuation</text>
<text x="642.7" y="393" font-size="10" fill="#333" textLength="88.8" lengthAdjust="spacingAndGlyphs">Normal NVT range</text>
<text x="722.4" y="410.8" class="bold" font-size="10" textLength="48.6" lengthAdjust="spacingAndGlyphs">NVT Ratio</text>

<!-- source -->
<rect x="359.8" y="508.6" width="69" height="14" fill="#fff" stroke="#ccc" stroke-width="1"/>
<text x="362.5" y="517.9" font-size="6.8" fill="#666" textLength="63.7" lengthAdjust="spacingAndGlyphs">Source: Woobull.com</text>
</svg>
</body>
</html>
